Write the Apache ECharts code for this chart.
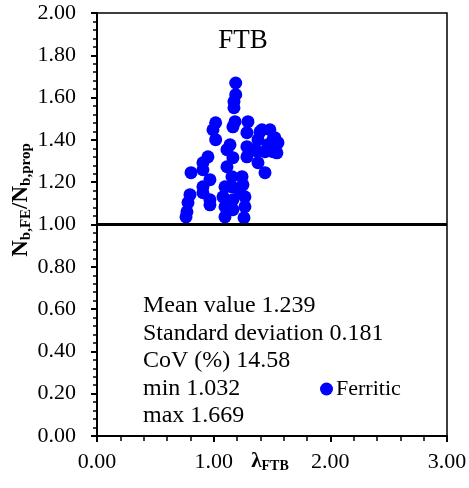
<!DOCTYPE html>
<html><head><meta charset="utf-8">
<script src="https://cdn.jsdelivr.net/npm/echarts@6/dist/echarts.min.js"></script>
<style>html,body{margin:0;padding:0;background:#fff}#c{width:469px;height:488px}</style>
</head><body><div id="c"></div>
<script>
const lambdaFTB = [1.189,1.189,1.174,1.174,1.183,1.165,1.017,0.994,1.017,1.294,1.285,1.397,1.380,1.508,1.508,1.285,1.140,1.114,1.285,1.380,1.380,1.440,1.165,1.114,0.951,0.908,0.908,0.806,0.968,0.908,0.908,0.968,0.968,0.797,0.780,0.771,0.763,1.157,1.243,1.157,1.251,1.097,1.080,1.097,1.097,1.165,1.165,1.268,1.268,1.260,1.225,1.414,1.525,1.542,1.525,1.440,1.465,1.551,1.337,1.482];
const ratioNb = [1.669,1.614,1.581,1.552,1.486,1.462,1.481,1.448,1.401,1.486,1.434,1.438,1.401,1.401,1.344,1.368,1.377,1.354,1.320,1.344,1.292,1.245,1.316,1.273,1.320,1.292,1.259,1.245,1.212,1.178,1.150,1.117,1.093,1.141,1.103,1.060,1.036,1.226,1.226,1.178,1.188,1.178,1.131,1.084,1.036,1.117,1.070,1.131,1.084,1.032,1.150,1.448,1.410,1.339,1.363,1.344,1.377,1.387,1.354,1.448];
const statLines = ['Mean value 1.239','Standard deviation 0.181','CoV (%) 14.58','min 1.032','max 1.669'];
const seriesName = 'Ferritic';
const xTicks = [0,1,2,3];
const yTicks = [0,0.2,0.4,0.6,0.8,1.0,1.2,1.4,1.6,1.8,2.0];
const refLine = 1.0;

const FONT = '"Liberation Serif","Times New Roman",serif';
const chart = echarts.init(document.getElementById('c'));
const pts = lambdaFTB.map((x,i)=>[x, ratioNb[i]]);
chart.setOption({
  animation:false,
  textStyle:{fontFamily:FONT},
  grid:{left:97,right:22,top:13,bottom:52,containLabel:false,outerBoundsMode:'none',show:true,borderColor:'#000',borderWidth:1.5,backgroundColor:'transparent'},
  title:{text:'FTB',left:238,top:22,textAlign:'center',textStyle:{fontFamily:FONT,fontWeight:'normal',fontSize:27,color:'#000'}},
  legend:{data:[seriesName],left:315,top:373,icon:'circle',itemWidth:13,itemHeight:13,itemGap:4,
    textStyle:{fontFamily:FONT,fontSize:22,color:'#000',padding:[0,0,0,-2]}},
  xAxis:{type:'value',min:0,max:3,interval:1,
    axisLine:{onZero:false,lineStyle:{color:'#000',width:2}},
    axisTick:{show:true,length:6,lineStyle:{color:'#000',width:2}},
    minorTick:{show:true,splitNumber:5,length:5,lineStyle:{color:'#000',width:1.5}},
    splitLine:{show:false},
    axisLabel:{margin:15,fontFamily:FONT,fontSize:22,color:'#000',formatter:v=>xTicks.includes(v)?v.toFixed(2):''}},
  yAxis:{type:'value',min:0,max:2,interval:0.2,
    axisLine:{onZero:false,lineStyle:{color:'#000',width:2}},
    axisTick:{show:true,length:6,lineStyle:{color:'#000',width:2}},
    minorTick:{show:true,splitNumber:5,length:4,lineStyle:{color:'#000',width:1.5}},
    splitLine:{show:false},
    axisLabel:{margin:21,fontFamily:FONT,fontSize:22,color:'#000',formatter:v=>v.toFixed(2)}},
  graphic:[
    {type:'text',left:143,top:292,style:{text:statLines.join('\n'),font:'24px '+FONT,fill:'#000',lineHeight:27.5}},
    {type:'text',x:21,y:200,rotation:Math.PI/2,
      style:{text:'{b|N}{s|b,FE}{b|/N}{s|b,prop}',align:'center',verticalAlign:'middle',
        rich:{b:{fontFamily:FONT,fontWeight:'bold',fontSize:23,fill:'#000'},s:{fontFamily:FONT,fontWeight:'bold',fontSize:15,fill:'#000',verticalAlign:'bottom',padding:[10,0,0,0]}}}},
    {type:'text',x:270,y:462,
      style:{text:'{b|λ}{s|FTB}',align:'center',verticalAlign:'middle',
        rich:{b:{fontFamily:FONT,fontWeight:'bold',fontSize:21,fill:'#000'},s:{fontFamily:FONT,fontWeight:'bold',fontSize:14,fill:'#000',verticalAlign:'bottom',padding:[9,0,0,0]}}}}
  ],
  series:[{name:seriesName,type:'scatter',data:pts,symbol:'circle',symbolSize:13,
    itemStyle:{color:'#0000ff',opacity:1},
    markLine:{silent:true,symbol:'none',label:{show:false},lineStyle:{color:'#000',width:3,type:'solid'},data:[{yAxis:refLine}]}}]
});
</script></body></html>
